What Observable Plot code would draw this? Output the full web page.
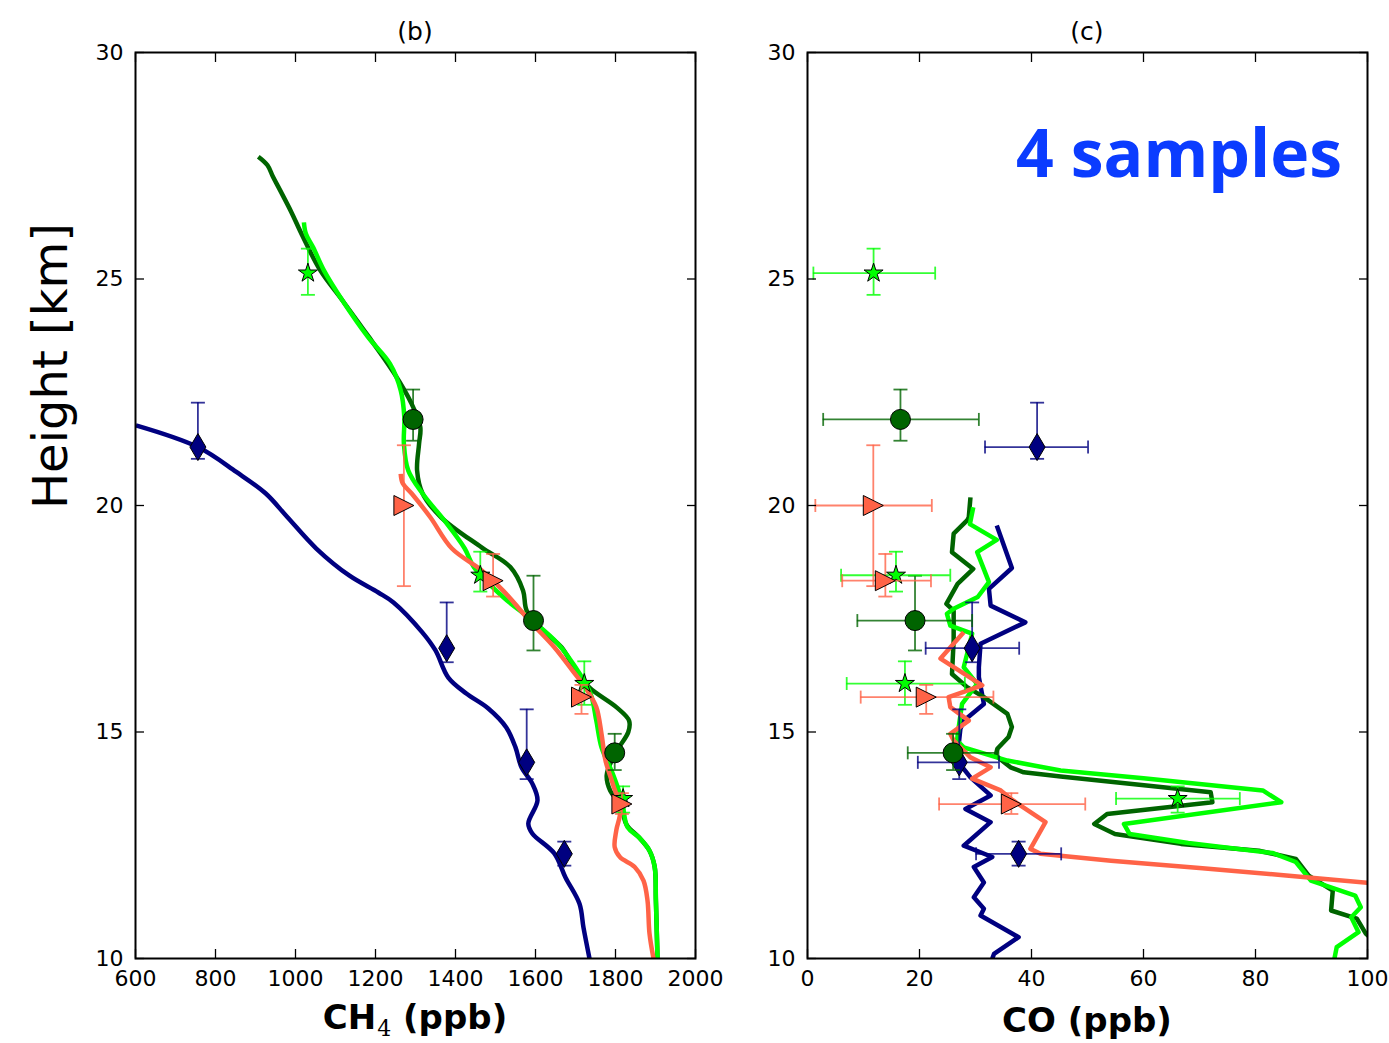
<!DOCTYPE html>
<html>
<head>
<meta charset="utf-8">
<script src="https://cdn.jsdelivr.net/npm/d3@7"></script>
<script src="https://cdn.jsdelivr.net/npm/@observablehq/plot@0.6"></script>
<style>
  html, body { margin: 0; padding: 0; background: #fff; }
  #fig { position: relative; width: 1389px; height: 1043px; font-family: "DejaVu Sans", sans-serif; color: #000; overflow: hidden; }
  .abs { position: absolute; white-space: nowrap; line-height: 1; }
  .center { transform: translate(-50%, -50%); }
  .panel-title { font-size: 25px; }
  .xlabel { font-size: 34px; font-weight: bold; }
  .xlabel sub { font-family: "DejaVu Serif", serif; font-weight: normal; font-size: 22px; vertical-align: -7px; margin-left: 1px; }
  .ylabel { font-size: 48px; transform: translate(-50%, -50%) rotate(-90deg); }
  .note { font-family: "Open Sans", sans-serif; font-weight: bold; font-size: 66px; color: #0b3cff; }
</style>
</head>
<body>
<div id="fig">
  <div id="panelB" class="abs" style="left:0;top:0"></div>
  <div id="panelC" class="abs" style="left:700px;top:0"></div>
  <div class="abs center panel-title" style="left:415px;top:31px">(b)</div>
  <div class="abs center panel-title" style="left:1087px;top:31px">(c)</div>
  <div class="abs ylabel" style="left:50px;top:366px">Height [km]</div>
  <div class="abs center xlabel" style="left:415px;top:1020px">CH<sub>4</sub> (ppb)</div>
  <div class="abs center xlabel" style="left:1087px;top:1020px">CO (ppb)</div>
  <div class="abs note" style="right:47px;top:118px">4 samples</div>
</div>
<script>
// ---- axis ticks ----
const heightTicks = [10, 15, 20, 25, 30];
const ch4Ticks = [600, 800, 1000, 1200, 1400, 1600, 1800, 2000];
const coTicks = [0, 20, 40, 60, 80, 100];

// ---- sample measurements (height in km, with lower/upper height bounds) ----
const navyHeight     = [21.29, 16.85, 14.33, 12.31];
const navyHeightLow  = [21.03, 16.54, 13.96, 12.05];
const navyHeightHigh = [22.27, 17.86, 15.50, 12.58];
const navyCH4        = [756, 1378, 1578, 1672];
const navyCO         = [41.0, 29.4, 27.1, 37.7];
const navyCOLow      = [31.7, 21.1, 19.7, 30.1];
const navyCOHigh     = [50.1, 37.8, 34.2, 45.3];

const darkGreenHeight     = [21.90, 17.46, 14.54];
const darkGreenHeightLow  = [21.43, 16.80, 14.16];
const darkGreenHeightHigh = [22.56, 18.45, 14.96];
const darkGreenCH4        = [1294, 1595, 1798];
const darkGreenCO         = [16.6, 19.2, 26.0];
const darkGreenCOLow      = [2.8, 8.9, 17.9];
const darkGreenCOHigh     = [30.6, 29.4, 34.1];

const limeHeight     = [25.13, 18.46, 16.07, 13.53];
const limeHeightLow  = [24.65, 18.10, 15.60, 13.22];
const limeHeightHigh = [25.67, 18.98, 16.56, 13.80];
const limeCH4        = [1031, 1462, 1722, 1819];
const limeCO         = [11.8, 15.8, 17.4, 66.1];
const limeCOLow      = [1.05, 6.0, 7.0, 55.1];
const limeCOHigh     = [22.8, 25.5, 28.1, 77.2];

const tomatoHeight     = [20.00, 18.34, 15.77, 13.41];
const tomatoHeightLow  = [18.22, 17.99, 15.40, 13.19];
const tomatoHeightHigh = [21.33, 18.93, 16.04, 13.65];
const tomatoCH4        = [1271, 1494, 1715, 1816];
const tomatoCO         = [11.75, 13.9, 21.2, 36.4];
const tomatoCOLow      = [1.4, 6.2, 9.5, 23.5];
const tomatoCOHigh     = [22.2, 22.05, 33.2, 49.6];

// ---- model profiles: [mixing ratio, height km] ----
const navyCH4Profile = [[601,21.77],[756,21.29],[852,20.74],[925,20.27],[980,19.74],[1052,19.05],[1135,18.45],[1207,18.08],[1245,17.86],[1317,17.20],[1350,16.80],[1382,16.20],[1427,15.85],[1482,15.52],[1527,15.10],[1550,14.66],[1565,14.22],[1592,13.86],[1605,13.49],[1582,12.98],[1592,12.76],[1647,12.32],[1675,11.79],[1710,11.21],[1720,10.68],[1735,10.0]];
const darkGreenCH4Profile = [[907,27.70],[930,27.51],[944,27.25],[962,26.95],[990,26.47],[1017,25.96],[1062,25.19],[1117,24.53],[1181,23.75],[1245,22.94],[1290,22.25],[1312,21.73],[1309,21.37],[1304,20.77],[1318,20.26],[1364,19.74],[1466,19.07],[1537,18.64],[1569,18.12],[1578,17.68],[1619,17.24],[1665,16.87],[1701,16.36],[1735,15.98],[1802,15.55],[1834,15.25],[1832,15.0],[1810,14.68],[1795,14.45],[1778,14.05],[1787,13.70],[1812,13.40],[1828,12.95],[1858,12.68],[1885,12.38],[1898,12.02],[1901,11.28],[1905,10.0]];
const limeCH4Profile = [[1021,26.25],[1026,26.0],[1044,25.70],[1071,25.19],[1117,24.53],[1181,23.72],[1236,23.13],[1263,22.54],[1272,21.95],[1271,21.36],[1282,20.77],[1318,20.26],[1372,19.67],[1423,19.05],[1446,18.64],[1519,17.98],[1592,17.46],[1656,16.95],[1711,16.28],[1738,15.84],[1752,15.25],[1765,14.66],[1793,14.08],[1816,13.49],[1830,12.90],[1858,12.68],[1885,12.38],[1898,12.02],[1901,11.28],[1905,10.0]];
const tomatoCH4Profile = [[1263,20.70],[1268,20.49],[1291,20.26],[1337,19.74],[1391,19.05],[1465,18.57],[1519,18.12],[1592,17.39],[1647,16.87],[1692,16.36],[1729,15.92],[1752,15.55],[1765,14.96],[1775,14.37],[1793,13.86],[1812,13.27],[1802,12.83],[1798,12.46],[1811,12.24],[1848,12.02],[1870,11.72],[1880,11.28],[1885,10.55],[1895,10.0]];

const navyCOProfile = [[33.8,19.56],[36.5,18.62],[32.4,18.16],[32.7,17.79],[38.9,17.42],[30.9,16.95],[30.6,16.43],[30.6,16.21],[31.5,15.62],[27.9,15.25],[27.3,15.07],[26.7,14.37],[29.1,14.0],[32.7,13.60],[28.2,13.30],[32.7,13.01],[27.9,12.49],[33.0,12.24],[29.7,12.02],[31.5,11.68],[29.7,11.35],[31.5,11.10],[30.9,10.95],[37.7,10.47],[33.3,10.10],[33.0,10.0]];
const darkGreenCOProfile = [[29.1,20.18],[28.8,19.74],[28.5,19.67],[26.1,19.38],[25.8,18.97],[29.6,18.60],[26.8,18.27],[24.8,17.83],[26.1,17.68],[26.1,17.02],[25.8,16.28],[28.5,15.99],[31.5,15.77],[35.7,15.40],[36.5,15.11],[35.9,14.89],[33.9,14.63],[33.6,14.48],[36.25,14.22],[38.6,14.11],[45.2,14.02],[72.0,13.67],[72.3,13.45],[53.5,13.19],[51.2,12.97],[54.9,12.75],[66.7,12.53],[80.6,12.38],[87.2,12.20],[89.5,11.83],[93.8,11.50],[93.5,11.06],[98.1,10.88],[99.7,10.55],[101,10.4]];
const limeCOProfile = [[29.6,19.96],[29.0,19.59],[33.8,19.24],[30.3,18.97],[32.4,18.31],[30.4,17.98],[26.1,17.72],[24.9,17.61],[25.5,17.35],[29.4,17.17],[27.9,16.43],[30.3,16.06],[27.6,15.62],[27.0,15.11],[26.7,14.81],[27.9,14.66],[35.7,14.37],[45.2,14.15],[60,13.98],[81.3,13.71],[84.6,13.45],[56.5,12.97],[57.5,12.75],[68,12.55],[83,12.33],[87.2,12.13],[89.9,11.72],[97.8,11.39],[98.8,11.13],[97.1,10.91],[98.4,10.58],[94.5,10.25],[94.1,10.0]];
const tomatoCOProfile = [[27.9,17.20],[23.75,16.62],[31.2,16.03],[25.2,15.77],[25.5,15.55],[28.8,15.25],[25.5,14.96],[26.1,14.81],[29.1,14.44],[32.7,14.22],[29.4,13.97],[34.5,13.71],[36.25,13.53],[38.0,13.38],[42.5,13.01],[39.8,12.42],[41.6,12.31],[45.2,12.27],[54.2,12.16],[70,12.0],[85,11.84],[100,11.67],[104,11.62]];

// ---- marker shapes ----
const rad = size => Math.sqrt(size / Math.PI);
const thinDiamond = { draw(ctx, size) { const r = rad(size); ctx.moveTo(0, -1.35 * r); ctx.lineTo(0.8 * r, 0); ctx.lineTo(0, 1.35 * r); ctx.lineTo(-0.8 * r, 0); ctx.closePath(); } };
const triangleRight = { draw(ctx, size) { const r = rad(size); ctx.moveTo(r, 0); ctx.lineTo(-r, -r); ctx.lineTo(-r, r); ctx.closePath(); } };
const star = { draw(ctx, size) {
  const R = rad(size), r = R * 0.382;
  for (let i = 0; i < 10; i++) {
    const a = -Math.PI / 2 + i * Math.PI / 5, q = i % 2 ? r : R;
    const x = q * Math.cos(a), y = q * Math.sin(a);
    if (i) ctx.lineTo(x, y); else ctx.moveTo(x, y);
  }
  ctx.closePath();
} };
const hCap = { draw(ctx, size) { const r = rad(size); ctx.moveTo(-r, 0); ctx.lineTo(r, 0); } };
const vCap = { draw(ctx, size) { const r = rad(size); ctx.moveTo(0, -r); ctx.lineTo(0, r); } };

function rows(height, low, high, ch4, co, coLow, coHigh) {
  return height.map((h, i) => ({h, hLo: low[i], hHi: high[i], ch4: ch4[i], co: co[i], coLo: coLow[i], coHi: coHigh[i]}));
}

const samples = [
  {color: "#000080", symbol: thinDiamond, r: 10, ch4Profile: navyCH4Profile, coProfile: navyCOProfile,
   points: rows(navyHeight, navyHeightLow, navyHeightHigh, navyCH4, navyCO, navyCOLow, navyCOHigh)},
  {color: "#006400", symbol: "circle", r: 10, ch4Profile: darkGreenCH4Profile, coProfile: darkGreenCOProfile,
   points: rows(darkGreenHeight, darkGreenHeightLow, darkGreenHeightHigh, darkGreenCH4, darkGreenCO, darkGreenCOLow, darkGreenCOHigh)},
  {color: "#00ff00", symbol: star, r: 10, ch4Profile: limeCH4Profile, coProfile: limeCOProfile,
   points: rows(limeHeight, limeHeightLow, limeHeightHigh, limeCH4, limeCO, limeCOLow, limeCOHigh)},
  {color: "#ff6347", symbol: triangleRight, r: 10, ch4Profile: tomatoCH4Profile, coProfile: tomatoCOProfile,
   points: rows(tomatoHeight, tomatoHeightLow, tomatoHeightHigh, tomatoCH4, tomatoCO, tomatoCOLow, tomatoCOHigh)}
];

// inward ticks on all four sides, plain integer labels on bottom and left
function frameAxes(xTicks) {
  const tick = {tickFormat: () => "", label: null, strokeWidth: 1.3};
  const plain = d => String(d);
  return [
    Plot.axisX({anchor: "bottom", ticks: xTicks, tickSize: 9, dy: -9, ...tick}),
    Plot.axisX({anchor: "top", ticks: xTicks, tickSize: 9, dy: 9, ...tick}),
    Plot.axisY({anchor: "left", ticks: heightTicks, tickSize: 9, dx: 9, ...tick}),
    Plot.axisY({anchor: "right", ticks: heightTicks, tickSize: 9, dx: -9, ...tick}),
    Plot.axisX({anchor: "bottom", ticks: xTicks, tickSize: 0, tickPadding: 12, tickFormat: plain, label: null}),
    Plot.axisY({anchor: "left", ticks: heightTicks, tickSize: 0, tickPadding: 12, tickFormat: plain, label: null}),
    Plot.frame({stroke: "black", strokeWidth: 2})
  ];
}

function panel({width, marginLeft, marginRight, xDomain, xTicks, xKey, profileKey, curve, horizontalErrors}) {
  const marks = [];
  for (const s of samples) {
    marks.push(Plot.line(s[profileKey], {x: d => d[0], y: d => d[1], stroke: s.color, strokeWidth: 4.5,
      strokeLinejoin: "round", strokeLinecap: "butt", curve, clip: true}));
  }
  for (const s of samples) {
    const err = {stroke: s.color, strokeWidth: 1.8, strokeOpacity: 0.8};
    marks.push(Plot.ruleX(s.points, {x: xKey, y1: "hLo", y2: "hHi", ...err}));
    marks.push(Plot.dot(s.points, {x: xKey, y: "hLo", symbol: hCap, r: 7, fill: "none", ...err}));
    marks.push(Plot.dot(s.points, {x: xKey, y: "hHi", symbol: hCap, r: 7, fill: "none", ...err}));
    if (horizontalErrors) {
      marks.push(Plot.ruleY(s.points, {y: "h", x1: "coLo", x2: "coHi", clip: true, ...err}));
      marks.push(Plot.dot(s.points, {x: "coLo", y: "h", symbol: vCap, r: 6.5, fill: "none", ...err}));
      marks.push(Plot.dot(s.points, {x: "coHi", y: "h", symbol: vCap, r: 6.5, fill: "none", ...err}));
    }
    marks.push(Plot.dot(s.points, {x: xKey, y: "h", symbol: s.symbol, r: s.r, fill: s.color, stroke: "black", strokeWidth: 1}));
  }
  marks.push(...frameAxes(xTicks));
  return Plot.plot({
    width, height: 1043, marginLeft, marginRight, marginTop: 52, marginBottom: 85,
    x: {domain: xDomain, label: null},
    y: {domain: [10, 30], label: null},
    style: {fontFamily: "DejaVu Sans", fontSize: "22px", background: "transparent", overflow: "visible", color: "black"},
    marks
  });
}

document.getElementById("panelB").append(panel({
  width: 700, marginLeft: 135, marginRight: 5, xDomain: [600, 2000], xTicks: ch4Ticks,
  xKey: "ch4", profileKey: "ch4Profile", curve: "catmull-rom", horizontalErrors: false
}));
document.getElementById("panelC").append(panel({
  width: 689, marginLeft: 107, marginRight: 22, xDomain: [0, 100], xTicks: coTicks,
  xKey: "co", profileKey: "coProfile", curve: "linear", horizontalErrors: true
}));
</script>
</body>
</html>
